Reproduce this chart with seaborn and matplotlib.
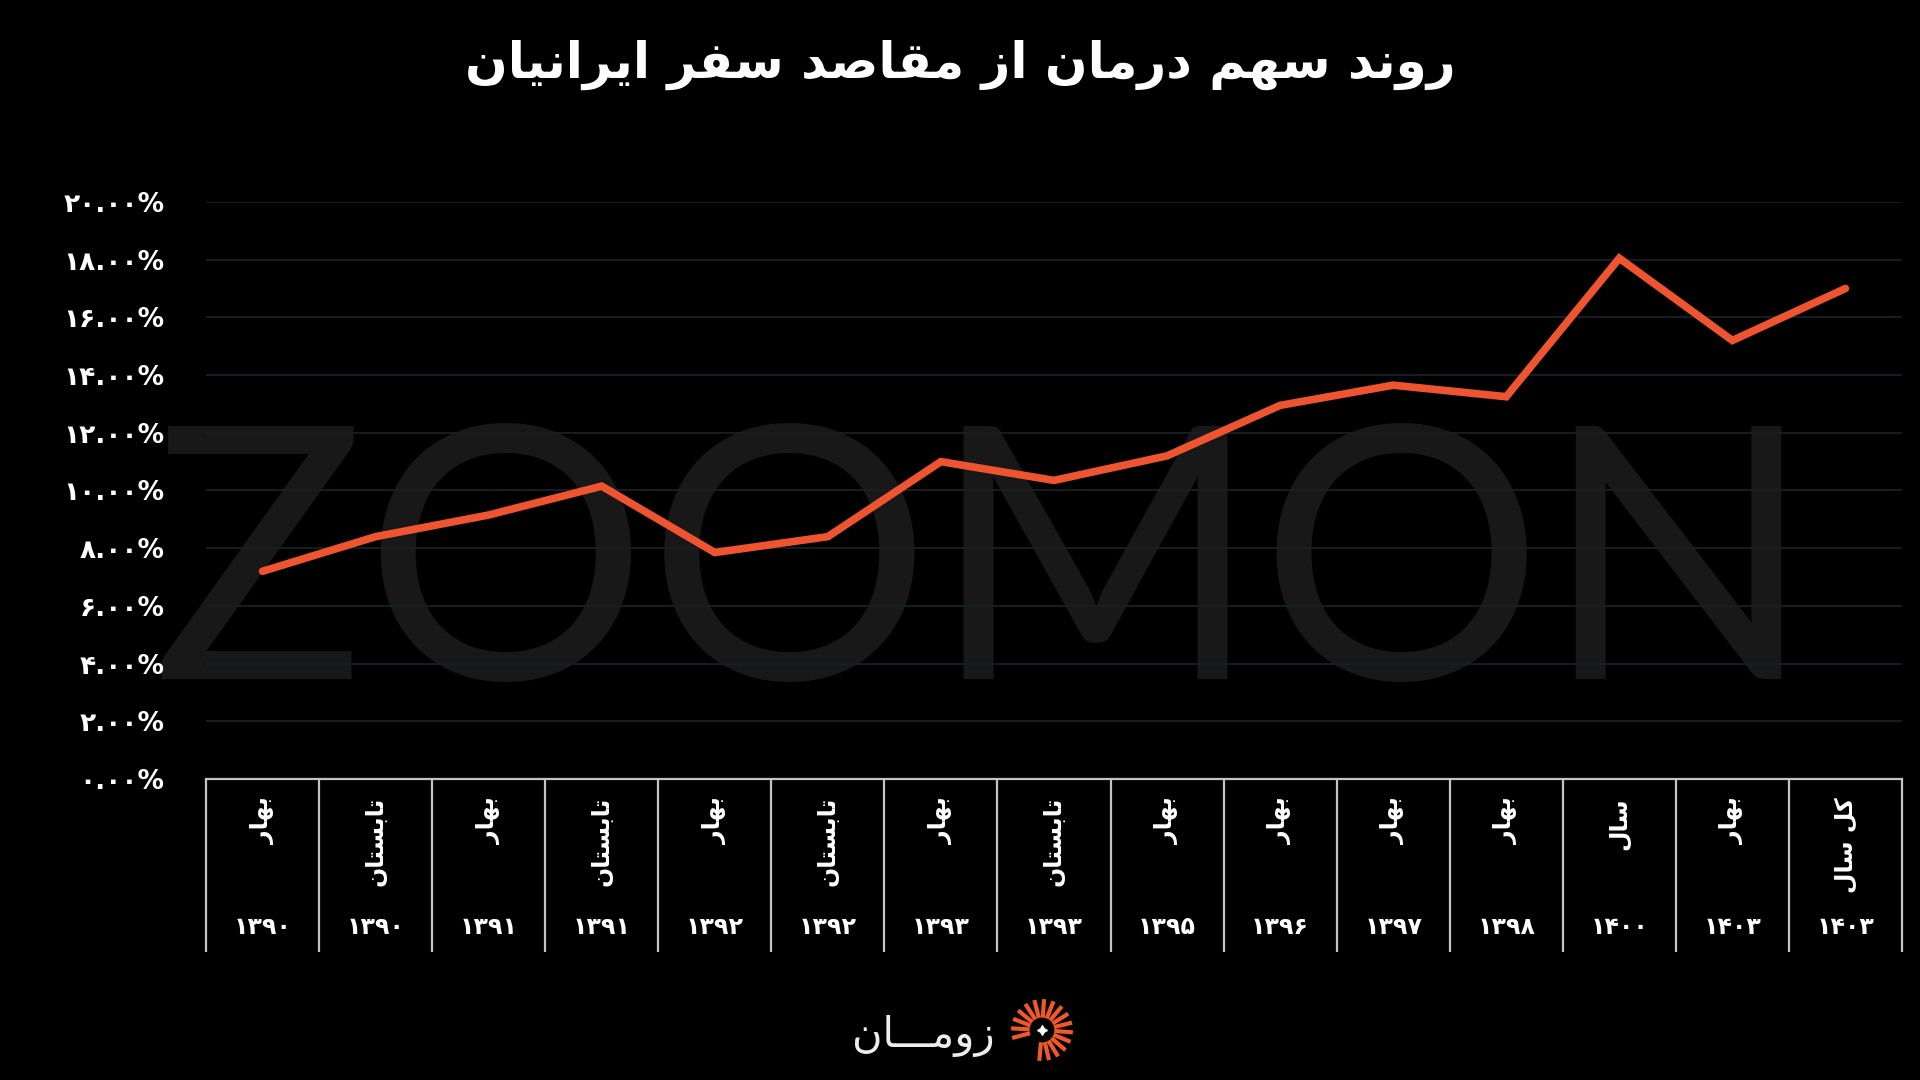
import numpy as np
import pandas as pd
import matplotlib
matplotlib.use("Agg")
import matplotlib.pyplot as plt
import matplotlib.transforms as mtransforms
import seaborn as sns

# ---------------- data ----------------
title_text = "روند سهم درمان از مقاصد سفر ایرانیان"
season_labels = ["بهار", "تابستان", "بهار", "تابستان", "بهار", "تابستان", "بهار", "تابستان",
                 "بهار", "بهار", "بهار", "بهار", "سال", "بهار", "کل سال"]
year_labels = ["۱۳۹۰", "۱۳۹۰", "۱۳۹۱", "۱۳۹۱", "۱۳۹۲", "۱۳۹۲", "۱۳۹۳", "۱۳۹۳",
               "۱۳۹۵", "۱۳۹۶", "۱۳۹۷", "۱۳۹۸", "۱۴۰۰", "۱۴۰۳", "۱۴۰۳"]
share_pct = [7.2, 8.4, 9.15, 10.15, 7.85, 8.4, 11.0, 10.35, 11.2, 12.95, 13.65, 13.25, 18.05, 15.2, 17.0]
y_ticks = [0, 2, 4, 6, 8, 10, 12, 14, 16, 18, 20]
y_tick_labels = ["۰.۰۰%", "۲.۰۰%", "۴.۰۰%", "۶.۰۰%", "۸.۰۰%", "۱۰.۰۰%",
                 "۱۲.۰۰%", "۱۴.۰۰%", "۱۶.۰۰%", "۱۸.۰۰%", "۲۰.۰۰%"]
logo_text = "زومـــان"
watermark = "ZOOMON"

# ---------------- simple Persian shaping (presentation forms + RTL) ----------------
FORMS = {
    "\u0627": ("\uFE8D", "\uFE8E", None, None),
    "\u0628": ("\uFE8F", "\uFE90", "\uFE91", "\uFE92"),
    "\u062A": ("\uFE95", "\uFE96", "\uFE97", "\uFE98"),
    "\u062F": ("\uFEA9", "\uFEAA", None, None),
    "\u0631": ("\uFEAD", "\uFEAE", None, None),
    "\u0632": ("\uFEAF", "\uFEB0", None, None),
    "\u0633": ("\uFEB1", "\uFEB2", "\uFEB3", "\uFEB4"),
    "\u0635": ("\uFEB9", "\uFEBA", "\uFEBB", "\uFEBC"),
    "\u0641": ("\uFED1", "\uFED2", "\uFED3", "\uFED4"),
    "\u0642": ("\uFED5", "\uFED6", "\uFED7", "\uFED8"),
    "\u0644": ("\uFEDD", "\uFEDE", "\uFEDF", "\uFEE0"),
    "\u0645": ("\uFEE1", "\uFEE2", "\uFEE3", "\uFEE4"),
    "\u0646": ("\uFEE5", "\uFEE6", "\uFEE7", "\uFEE8"),
    "\u0647": ("\uFEE9", "\uFEEA", "\uFEEB", "\uFEEC"),
    "\u0648": ("\uFEED", "\uFEEE", None, None),
    "\u06CC": ("\uFBFC", "\uFBFD", "\uFBFE", "\uFBFF"),
    "\u06A9": ("\uFB8E", "\uFB8F", "\uFB90", "\uFB91"),
    "\u0640": ("\u0640", "\u0640", "\u0640", "\u0640"),
}


def fa(text):
    out = []
    n = len(text)
    for i, ch in enumerate(text):
        f = FORMS.get(ch)
        if f is None:
            out.append(ch)
            continue
        prev = text[i - 1] if i > 0 else None
        nxt = text[i + 1] if i < n - 1 else None
        jp = prev in FORMS and FORMS[prev][2] is not None
        jn = f[2] is not None and nxt in FORMS
        if jp and jn:
            out.append(f[3])
        elif jp:
            out.append(f[1])
        elif jn:
            out.append(f[2])
        else:
            out.append(f[0])
    return "".join(reversed(out))


# ---------------- style ----------------
sns.set_theme(style="dark", rc={
    "figure.facecolor": "black",
    "axes.facecolor": "none",
    "savefig.facecolor": "black",
})
plt.rcParams["font.family"] = ["DejaVu Sans"]

BG = "black"
LINE = "#EE5430"
GRID = "#182026"
TABLE = "#C4C4C4"

fig = plt.figure(figsize=(19.2, 10.8), dpi=100)
fig.patch.set_facecolor(BG)

# watermark behind everything
fig.text(0.512, 0.371, watermark, fontsize=255, color="#181818", family=["Lato", "DejaVu Sans"],
         weight="normal", ha="center", va="baseline", zorder=-10)

ax = fig.add_axes([0.1073, 0.2787, 0.8833, 0.5343])
ax.set_facecolor("none")

df = pd.DataFrame({"idx": np.arange(len(share_pct)), "share": share_pct})
sns.lineplot(data=df, x="idx", y="share", ax=ax, color=LINE, linewidth=5.5,
             solid_capstyle="round", solid_joinstyle="miter")

ax.set_xlim(-0.5, len(share_pct) - 0.5)
ax.set_ylim(0, 20)
ax.set_yticks(y_ticks)
ax.set_yticklabels(y_tick_labels, fontsize=19, fontweight="bold", color="white")
ax.tick_params(axis="y", length=0, pad=30)
ax.set_xticks([])
ax.set_xlabel("")
ax.set_ylabel("")
ax.grid(False)
for yv in y_ticks[1:]:
    ax.axhline(yv, color=GRID, lw=1.3, zorder=0.5)

for side in ["top", "right", "left"]:
    ax.spines[side].set_visible(False)
ax.spines["bottom"].set_color(TABLE)
ax.spines["bottom"].set_linewidth(1.6)

# category table below the axis
trans = mtransforms.blended_transform_factory(ax.transData, ax.transAxes)
for k in range(len(share_pct) + 1):
    ax.plot([k - 0.5, k - 0.5], [0, -0.30], transform=trans, color=TABLE, lw=1.6,
            clip_on=False, solid_capstyle="butt")
for i, (s, yl) in enumerate(zip(season_labels, year_labels)):
    ax.text(i, -0.031, fa(s), transform=trans, rotation=90, ha="center", va="top",
            fontsize=17, fontweight="bold", color="white")
    ax.text(i, -0.2565, yl, transform=trans, ha="center", va="center",
            fontsize=17, fontweight="bold", color="white")

# title
fig.text(0.5, 0.94, fa(title_text), ha="center", va="center", fontsize=36,
         fontweight="bold", color="white")

# logo
fig.text(0.518, 0.041, fa(logo_text), ha="right", va="center", fontsize=30,
         color="#EDEDED", fontweight="normal", family=["DejaVu Sans"])
lax = fig.add_axes([1008 / 1920, 16 / 1080, 68 / 1920, 68 / 1080])
lax.set_xlim(-1.1, 1.1)
lax.set_ylim(-1.1, 1.1)
lax.set_aspect("equal")
lax.axis("off")
angles = np.linspace(-95, 195, 17)
for a in angles:
    r = np.deg2rad(a)
    lax.plot([0.40 * np.cos(r), 1.0 * np.cos(r)], [0.40 * np.sin(r), 1.0 * np.sin(r)],
             color="#F0582A", lw=3.0, solid_capstyle="butt")
lax.plot([0], [0], marker=(4, 1, 0), color="white", markersize=7)

fig.savefig("out.png", dpi=100, facecolor=BG)
